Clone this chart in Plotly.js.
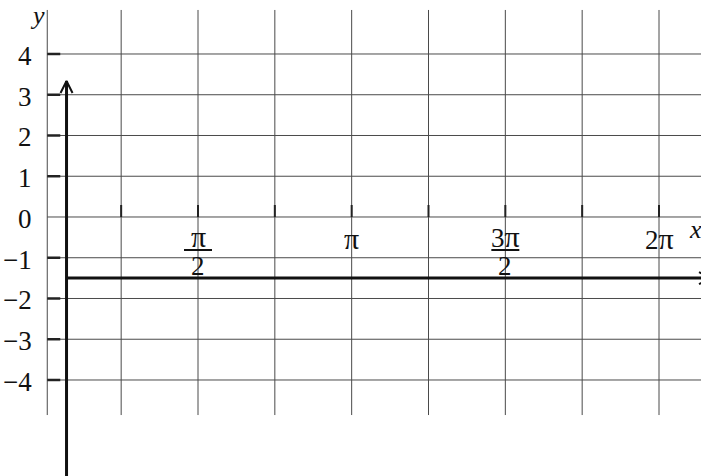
<!DOCTYPE html>
<html>
<head>
<meta charset="utf-8">
<script src="https://cdn.plot.ly/plotly-3.0.1.min.js"></script>
<style>html,body{margin:0;padding:0;background:#fff;}#chart{width:701px;height:476px;}</style>
</head>
<body>
<div id="chart"></div>
<script>
// ---- data ----
var PI = Math.PI;
var xGridVals = [PI/4, PI/2, 3*PI/4, PI, 5*PI/4, 3*PI/2, 7*PI/4, 2*PI];
var yGridVals = [4, 3, 2, 1, 0, -1, -2, -3, -4];
var yTickLabels = ['4', '3', '2', '1', '0', '\u22121', '\u22122', '\u22123', '\u22124'];
var yDashVals = [4, 3, 2, 1, -1, -2, -3, -4];
var fracTickVals = [PI/2, 3*PI/2];
var fracNumerators = ['\u03c0', '3\u03c0'];
var fracDenominators = ['2', '2'];
var plainTickVals = [PI, 2*PI];
var plainTickLabels = ['\u03c0', '2\u03c0'];
var xAxisLevel = -1.5;   // where the heavy x-axis is drawn
var yAxisPos = 0.227;    // where the heavy y-axis is drawn

// ---- geometry (view) ----
var xRange = [-0.4531, 6.7124];
var yRange = [-6.356, 5.325];
var frameLeft = 0.03, gridTop = 5.08, gridBottom = -4.86, gridRight = 6.9;
var pxX = (xRange[1]-xRange[0])/701, pxY = (yRange[1]-yRange[0])/476;

var traces = [];
function seg(xs, ys, color, width) {
  traces.push({type:'scatter', mode:'lines', x:xs, y:ys, hoverinfo:'skip',
    line:{color:color, width:width}, showlegend:false});
}

// grid
var gx = [], gy = [];
xGridVals.forEach(function(v){ gx.push(v, v, null); gy.push(gridTop, gridBottom, null); });
gx.push(frameLeft, frameLeft, null); gy.push(gridTop, gridBottom, null);
yGridVals.forEach(function(v){ gx.push(frameLeft, gridRight, null); gy.push(v, v, null); });
seg(gx, gy, '#4a4a4a', 1);

// small ticks on y=0 line
var tx = [], ty = [];
xGridVals.forEach(function(v){ tx.push(v, v, null); ty.push(0, 12*pxY, null); });
seg(tx, ty, '#222', 2);

// small dashes on left frame
var dx = [], dy = [];
yDashVals.forEach(function(v){ dx.push(frameLeft, frameLeft + 13*pxX, null); dy.push(v, v, null); });
seg(dx, dy, '#222', 2.5);

// heavy axes
var yTip = yRange[1] - 81*pxY;
seg([yAxisPos, yAxisPos], [yTip, yRange[0]-1], '#111', 3);
seg([yAxisPos - 6*pxX, yAxisPos, yAxisPos + 6*pxX], [yTip - 12*pxY, yTip, yTip - 12*pxY], '#111', 2);
var xTip = xRange[0] + 711*pxX;
seg([yAxisPos, xTip], [xAxisLevel, xAxisLevel], '#111', 3);
seg([xTip - 12*pxX, xTip, xTip - 12*pxX], [xAxisLevel + 6*pxY, xAxisLevel, xAxisLevel - 6*pxY], '#111', 2);

// fraction bars
var bx = [], by = [];
var barY = yRange[1] - 250*pxY;
fracTickVals.forEach(function(v){ bx.push(v - 14*pxX, v + 14*pxX, null); by.push(barY, barY, null); });
seg(bx, by, '#111', 2);

function piText(s) {
  return s.replace(/\u03c0/g, '<span style="font-size:30px">\u03c0</span>');
}

var font = {family:'Liberation Serif, Times New Roman, serif', size:27, color:'#111'};
var ann = [];
yGridVals.forEach(function(v, i){
  ann.push({x: xRange[0] + 34*pxX, y: v, xref:'x', yref:'y', text: yTickLabels[i],
    showarrow:false, xanchor:'right', yanchor:'middle', yshift:-2, font:font});
});
var numY = yRange[1] - 236*pxY, denY = yRange[1] - 266*pxY;
fracTickVals.forEach(function(v, i){
  ann.push({x:v, y:numY, text:piText(fracNumerators[i]), showarrow:false, xanchor:'center', yanchor:'middle', font:font});
  ann.push({x:v, y:denY, text:fracDenominators[i], showarrow:false, xanchor:'center', yanchor:'middle', font:font});
});
plainTickVals.forEach(function(v, i){
  ann.push({x:v, y:numY - 2*pxY, text:piText(plainTickLabels[i]), showarrow:false, xanchor:'center', yanchor:'middle', font:font});
});
var italic = {family:'Liberation Serif, Times New Roman, serif', size:26, color:'#111', style:'italic'};
ann.push({x: xRange[0] + 695*pxX, y: yRange[1] - 229*pxY, text:'x', showarrow:false, xanchor:'center', yanchor:'middle', font:italic});
ann.push({x: xRange[0] + 37*pxX, y: yRange[1] - 15*pxY, text:'y', showarrow:false, xanchor:'center', yanchor:'middle', font:italic});

var layout = {
  width:701, height:476, margin:{l:0, r:0, t:0, b:0},
  paper_bgcolor:'#fff', plot_bgcolor:'#fff',
  xaxis:{range:xRange, visible:false, fixedrange:true},
  yaxis:{range:yRange, visible:false, fixedrange:true},
  annotations: ann, showlegend:false
};
Plotly.newPlot('chart', traces, layout, {staticPlot:true});
</script>
</body>
</html>
